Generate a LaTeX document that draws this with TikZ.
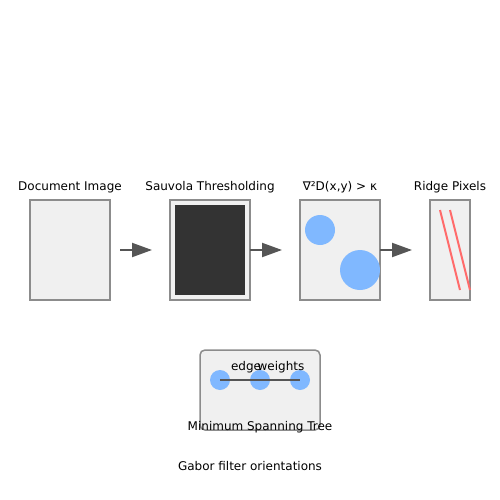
\documentclass[tikz,border=0pt]{standalone}
\usepackage{fontspec}
\setmainfont{DejaVu Sans}
\usetikzlibrary{arrows.meta}
\definecolor{boxfill}{HTML}{F0F0F0}
\definecolor{boxline}{HTML}{8C8C8C}
\definecolor{darkfill}{HTML}{333333}
\definecolor{blob}{HTML}{80B8FF}
\definecolor{ridge}{HTML}{FF6B6B}
\definecolor{arrowc}{HTML}{555555}
\tikzset{
  panel/.style={draw=boxline, fill=boxfill, line width=1.5pt},
  lbl/.style={anchor=base, font=\fontsize{12}{14}\selectfont, inner sep=0pt},
  flow/.style={draw=arrowc, line width=2pt, -{Triangle[length=20pt,width=14pt]}},
  dot/.style={fill=blob},
}
\begin{document}
\begin{tikzpicture}[x=1pt,y=-1pt]
\useasboundingbox (0,0) rectangle (500,500);
\fill[white] (0,0) rectangle (500,500);
% panels
\draw[panel] (30,200) rectangle (110,300);
\coordinate (docE) at (110,250);
\draw[panel] (170,200) rectangle (250,300);
\fill[darkfill] (175,205) rectangle (245,295);
\coordinate (sauW) at (170,250);
\coordinate (sauE) at (250,250);
\draw[panel] (300,200) rectangle (380,300);
\fill[dot] (320,230) circle (15);
\fill[dot] (360,270) circle (20);
\coordinate (lapW) at (300,250);
\coordinate (lapE) at (380,250);
\draw[panel] (430,200) rectangle (470,300);
\coordinate (ridW) at (430,250);
\draw[ridge, line width=2pt] (440,210) -- (460,290);
\draw[ridge, line width=2pt] (450,210) -- (470,290);
% labels
\node[lbl] (l1) at (70,190) {Document Image};
\node[lbl] (l2) at (210,190) {Sauvola Thresholding};
\node[lbl] (l3) at (340,190) {∇²D(x,y) > κ};
\node[lbl] (l4) at (450,190) {Ridge Pixels};
% arrows
\draw[flow, shorten <=10pt, shorten >=18pt] (docE) -- (sauW);
\draw[flow, shorten >=18pt] (sauE) -- (lapW);
\draw[flow, shorten >=18pt] (lapE) -- (ridW);
% MST box
\draw[panel, rounded corners=5pt] (200,350) rectangle (320,430);
\fill[dot] (220,380) circle (10);
\fill[dot] (260,380) circle (10);
\fill[dot] (300,380) circle (10);
\coordinate (m1) at (220,380);
\coordinate (m3) at (300,380);
\draw[arrowc, line width=2pt] (m1) -- (m3);
\node[lbl] (e1) at (246,370) {edge};
\node[lbl] (e2) at (281,370) {weights};
\node[lbl] (mst) at (260,430) {Minimum Spanning Tree};
\node[lbl] (gab) at (250,470) {Gabor filter orientations};
\end{tikzpicture}
\end{document}
